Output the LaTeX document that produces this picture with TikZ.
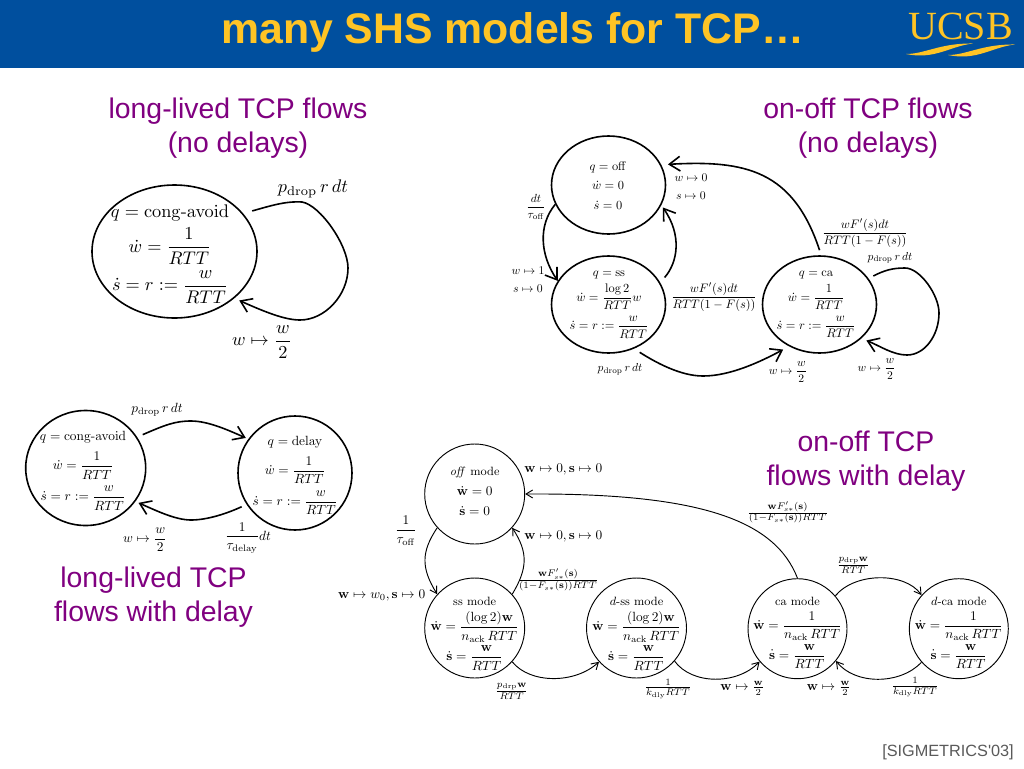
\documentclass[tikz,border=0pt]{standalone}
\usepackage{amsmath}
\usepackage[no-math]{fontspec}
\usetikzlibrary{shapes.geometric,arrows.meta}
\newfontfamily\headfont{Liberation Sans}
\newfontfamily\logofont{Liberation Serif}
\definecolor{barblue}{HTML}{004F9E}
\definecolor{titlegold}{HTML}{FFC425}
\definecolor{headpurple}{HTML}{800080}
\definecolor{citegray}{HTML}{5A5A5A}
\newcommand{\statelines}[1]{$\begin{array}{c}#1\end{array}$}
\newcommand{\rowgap}[1]{\\\noalign{\vskip #1}}
\tikzset{
  oval/.style 2 args={ellipse, draw, inner sep=0pt, minimum width=#1*0.75pt, minimum height=#2*0.75pt},
  thickline/.style={line width=1.2pt, >={Straight Barb[length=8pt,width=11pt]}},
  thinline/.style={line width=0.7pt, >={Straight Barb[length=5pt,width=6pt]}},
  heading/.style={font=\headfont\fontsize{21.3}{25.7}\selectfont, text=headpurple, align=center},
  tex/.style={inner sep=0pt, align=center, scale=#1},
  tex/.default=1
}
\begin{document}
\begin{tikzpicture}[x=0.75pt,y=-0.75pt]
  \useasboundingbox (0,0) rectangle (1024,768);
  \fill[white] (0,0) rectangle (1024,768);
  % Title bar
  \fill[barblue] (0,0) rectangle (1024,68);
  \node[font=\headfont\bfseries\fontsize{32.1}{36}\selectfont, text=titlegold] (title) at (512.5,32) {many SHS models for TCP…};
  % Logo
  \node[font=\logofont\fontsize{30}{30}\selectfont, text=titlegold, inner sep=0pt] (logo) at (960.5,26) {UCSB};
  \fill[titlegold] (906,54) .. controls (925,54) and (940,43) .. (973,43.5) .. controls (950,46) and (935,60) .. (906,54);
  \fill[titlegold] (948,55) .. controls (967,55) and (982,44) .. (1015,44.5) .. controls (992,47) and (977,61) .. (948,55);
  % Headings
  \node[heading] (headA) at (238,128) {long-lived TCP flows\\(no delays)};
  \node[heading] (headB) at (868,128) {on-off TCP flows\\(no delays)};
  \node[heading] (headC) at (153.5,597) {long-lived TCP\\flows with delay};
  \node[heading] (headD) at (866,461) {on-off TCP\\flows with delay};
  \node[font=\headfont\fontsize{12.2}{14}\selectfont, text=citegray, anchor=east, inner sep=0pt] (cite) at (1014,752) {[SIGMETRICS'03]};

  % Long-lived, no delays
  \begin{scope}[thickline]
    \node[oval={165}{133}] (cong) at (174.5,251.5) {};
    \node[tex=1.37] (congtxt) at (170,253) {\statelines{q=\mathrm{cong\text{-}avoid}\\[2pt] \dot w=\dfrac{1}{RTT}\rowgap{3.3pt} \dot s=r:=\dfrac{w}{RTT}}};
    \draw[->, shorten <=7pt, shorten >=4pt] (cong.29) .. controls (270,206) and (285,201) .. (302,202) .. controls (320,205) and (348,245) .. (348,268) .. controls (348,295) and (325,320) .. (300,320) .. controls (285,320) and (265,312) .. (cong.-38);
    \node[tex=1.37] (congdrop) at (313,189) {$p_{\mathrm{drop}}\,r\,dt$};
    \node[tex=1.37] (congcut) at (262,342) {$w\mapsto\dfrac{w}{2}$};
  \end{scope}

  % On-off, no delays
  \begin{scope}[thickline]
    \node[oval={114}{98}] (off) at (608.5,185) {};
    \node[oval={114}{97}] (ss) at (608.5,304.5) {};
    \node[oval={114}{97}] (ca) at (819.5,304.5) {};
    \node[tex=.93] (offtxt) at (608,187) {\statelines{q=\mathrm{off}\\[4pt] \dot w=0\\[4pt] \dot s=0}};
    \node[tex=.93] (sstxt) at (609,302) {\statelines{q=\mathrm{ss}\\[3pt] \dot w=\dfrac{\log 2}{RTT}w\rowgap{5pt} \dot s=r:=\dfrac{w}{RTT}}};
    \node[tex=.93] (catxt) at (816,302) {\statelines{q=\mathrm{ca}\\[3pt] \dot w=\dfrac{1}{RTT}\rowgap{5pt} \dot s=r:=\dfrac{w}{RTT}}};
    \draw[->] (off.200) .. controls (538,225) and (540,255) .. (ss.155);
    \draw[->, shorten <=5pt, shorten >=2pt] (ss.23) .. controls (678,262) and (682,235) .. (off.-21);
    \draw[->, shorten <=4pt, shorten >=5pt] (ca.88) .. controls (793,170) and (745,160) .. (off.21);
    \draw[->, shorten <=5pt, shorten >=5pt] (ss.-60) .. controls (655,362) and (680,376) .. (703,376) .. controls (730,376) and (760,362) .. (ca.234);
    \draw[->, shorten <=4pt, shorten >=4pt] (ca.28) .. controls (885,270) and (893,268) .. (905,268) .. controls (920,268) and (939,295) .. (939,313) .. controls (939,335) and (925,355) .. (907,355) .. controls (893,355) and (880,346) .. (ca.-39);
    \node[tex=.88] (lbdt) at (536,207) {$\dfrac{dt}{\tau_{\mathrm{off}}}$};
    \node[tex=.88] (lbzero) at (691,187.5) {\statelines{w\mapsto 0\\[3pt] s\mapsto 0}};
    \node[tex=.88] (lbone) at (528,280.5) {\statelines{w\mapsto 1\\[3pt] s\mapsto 0}};
    \node[tex=.92] (lbfa) at (714,297.3) {$\dfrac{wF'(s)dt}{RTT(1-F(s))}$};
    \node[tex=.92] (lbfb) at (865,233.3) {$\dfrac{wF'(s)dt}{RTT(1-F(s))}$};
    \node[tex=.87] (lbdropa) at (890,257.7) {$p_{\mathrm{drop}}\,r\,dt$};
    \node[tex=.87] (lbdropb) at (620,369) {$p_{\mathrm{drop}}\,r\,dt$};
    \node[tex=.87] (lbcuta) at (788,372) {$w\mapsto\dfrac{w}{2}$};
    \node[tex=.87] (lbcutb) at (876.7,369) {$w\mapsto\dfrac{w}{2}$};
  \end{scope}

  % Long-lived, with delay
  \begin{scope}[thickline]
    \node[oval={120}{115}] (avoid) at (85.7,468) {};
    \node[oval={114}{114}] (delay) at (295,473) {};
    \node[tex] (avoidtxt) at (83,469.5) {\statelines{q=\mathrm{cong\text{-}avoid}\\[5.5pt] \dot w=\dfrac{1}{RTT}\rowgap{5.3pt} \dot s=r:=\dfrac{w}{RTT}}};
    \node[tex] (delaytxt) at (295,474.5) {\statelines{q=\mathrm{delay}\\[5pt] \dot w=\dfrac{1}{RTT}\rowgap{5.3pt} \dot s=r:=\dfrac{w}{RTT}}};
    \draw[->, shorten <=4.5pt, shorten >=2pt] (avoid.31) .. controls (165,425) and (175,421) .. (191,421) .. controls (208,421) and (228,430) .. (delay.144);
    \draw[->, shorten <=4pt, shorten >=2.5pt] (delay.213) .. controls (228,513) and (208,520) .. (191,520) .. controls (175,520) and (155,510) .. (avoid.-34);
    \node[tex] (avoiddrop) at (157,410) {$p_{\mathrm{drop}}\,r\,dt$};
    \node[tex] (avoidcut) at (145,540) {$w\mapsto\dfrac{w}{2}$};
    \node[tex] (delayrate) at (248,537.7) {$\dfrac{1}{\tau_{\mathrm{delay}}}dt$};
  \end{scope}

  % On-off, with delay
  \begin{scope}[thinline]
    \node[oval={100}{100}] (offm) at (474.7,494) {};
    \node[oval={100}{100}] (ssm) at (474.7,628) {};
    \node[oval={100}{100}] (dssm) at (636.5,628) {};
    \node[oval={99}{100}] (cam) at (797.5,628.7) {};
    \node[oval={99}{100}] (dcam) at (958.8,628.7) {};
    \node[tex] (offmtxt) at (474.7,492) {\statelines{\text{\small $\mathit{off}$ mode}\\[3pt] \dot{\mathbf{w}}=0\\[3pt] \dot{\mathbf{s}}=0}};
    \node[tex] (ssmtxt) at (474.7,632) {\statelines{\text{\small ss mode}\\[1.5pt] \dot{\mathbf{w}}=\dfrac{(\log 2)\mathbf{w}}{n_{\mathrm{ack}}\,RTT}\rowgap{3pt} \dot{\mathbf{s}}=\dfrac{\mathbf{w}}{RTT}}};
    \node[tex] (dssmtxt) at (636.5,632) {\statelines{\text{\small $d$-ss mode}\\[1.5pt] \dot{\mathbf{w}}=\dfrac{(\log 2)\mathbf{w}}{n_{\mathrm{ack}}\,RTT}\rowgap{3pt} \dot{\mathbf{s}}=\dfrac{\mathbf{w}}{RTT}}};
    \node[tex] (camtxt) at (797.5,631.5) {\statelines{\text{\small ca mode}\\[1pt] \dot{\mathbf{w}}=\dfrac{1}{n_{\mathrm{ack}}\,RTT}\rowgap{2.5pt} \dot{\mathbf{s}}=\dfrac{\mathbf{w}}{RTT}}};
    \node[tex] (dcamtxt) at (958.8,631.5) {\statelines{\text{\small $d$-ca mode}\\[1pt] \dot{\mathbf{w}}=\dfrac{1}{n_{\mathrm{ack}}\,RTT}\rowgap{2.5pt} \dot{\mathbf{s}}=\dfrac{\mathbf{w}}{RTT}}};
    \draw[->] (offm.222) .. controls (421,552) and (421,568) .. (ssm.138);
    \draw[->] (ssm.42) .. controls (528,568) and (528,552) .. (offm.-42);
    \draw[->] (cam.90) .. controls (775,520) and (700,493) .. (offm.0);
    \draw[->] (ssm.-42) .. controls (530,684) and (575,684) .. (dssm.222);
    \draw[->] (dssm.-41) .. controls (692,685) and (737,685) .. (cam.221);
    \draw[->] (cam.41) .. controls (855,572) and (905,572) .. (dcam.138);
    \draw[->] (dcam.222) .. controls (900,685) and (855,685) .. (cam.-40);
    \node[tex] (lbzeroa) at (563.3,469.3) {$\mathbf{w}\mapsto 0,\mathbf{s}\mapsto 0$};
    \node[tex] (lbzerob) at (563.3,536.7) {$\mathbf{w}\mapsto 0,\mathbf{s}\mapsto 0$};
    \node[tex] (lbtau) at (406,530.7) {$\dfrac{1}{\tau_{\mathrm{off}}}$};
    \node[tex] (lbinit) at (381.7,595) {$\mathbf{w}\mapsto w_0,\mathbf{s}\mapsto 0$};
    \node[tex=1.03] (lbfsa) at (558,580) {$\frac{\mathbf{w}F'_{s*}(\mathbf{s})}{(1-F_{s*}(\mathbf{s}))RTT}$};
    \node[tex=1.03] (lbfsb) at (787.7,512.3) {$\frac{\mathbf{w}F'_{s*}(\mathbf{s})}{(1-F_{s*}(\mathbf{s}))RTT}$};
    \node[tex=1.03] (lbdrpa) at (511.7,691) {$\frac{p_{\mathrm{drp}}\mathbf{w}}{RTT}$};
    \node[tex=1.03] (lbdrpb) at (853.3,565) {$\frac{p_{\mathrm{drp}}\mathbf{w}}{RTT}$};
    \node[tex=1.03] (lbdlya) at (668,689) {$\frac{1}{k_{\mathrm{dly}}RTT}$};
    \node[tex=1.03] (lbdlyb) at (915,687.3) {$\frac{1}{k_{\mathrm{dly}}RTT}$};
    \node[tex] (lbhalfa) at (742.3,688.3) {$\mathbf{w}\mapsto\frac{\mathbf{w}}{2}$};
    \node[tex] (lbhalfb) at (829,688.3) {$\mathbf{w}\mapsto\frac{\mathbf{w}}{2}$};
  \end{scope}
\end{tikzpicture}
\end{document}
